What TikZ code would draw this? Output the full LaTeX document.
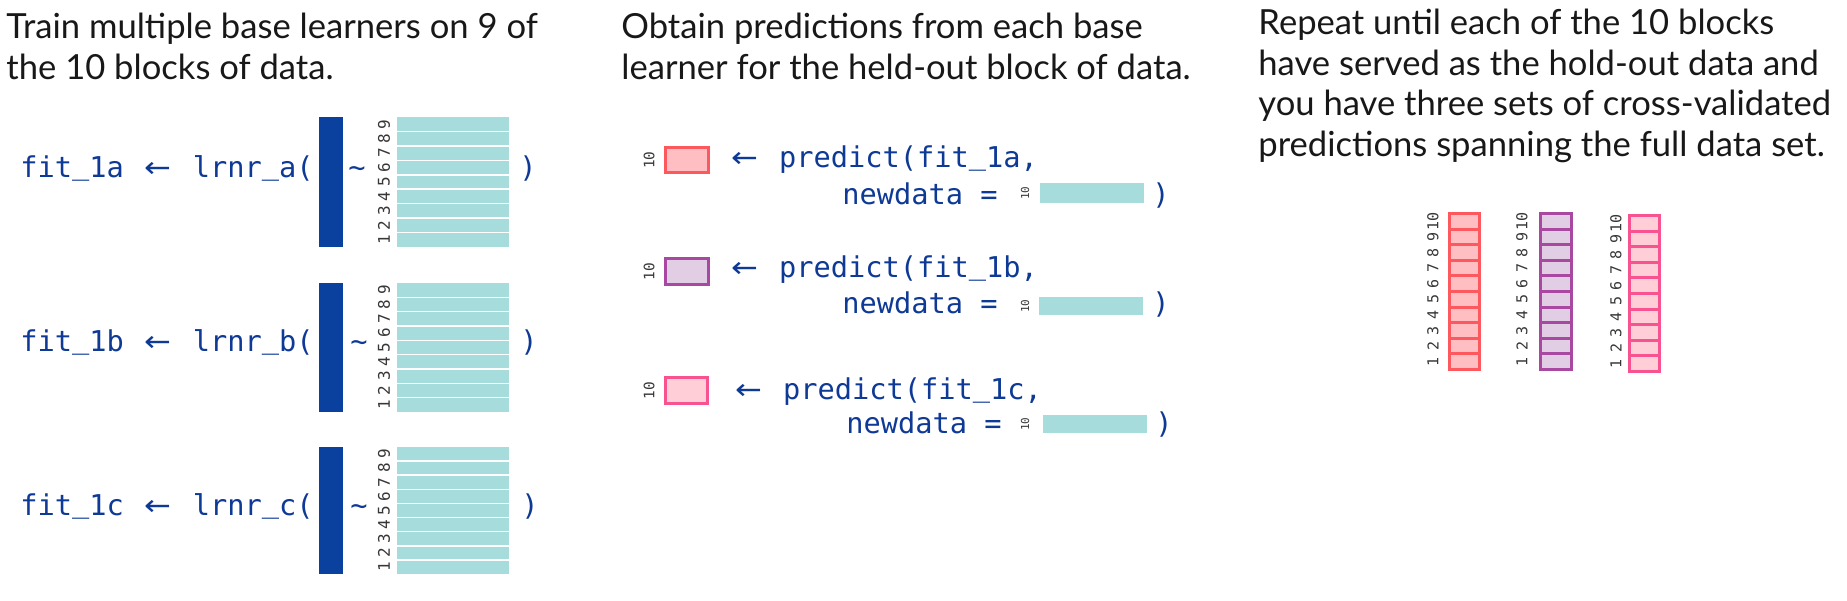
\documentclass[tikz,border=0pt]{standalone}
\usepackage{fontspec}
\setmainfont{Lato}
\newfontfamily\codefont{DejaVu Sans Mono}
\newfontfamily\arrfont{DejaVu Sans}
\definecolor{headc}{RGB}{24,24,24}
\definecolor{codec}{RGB}{14,58,150}
\definecolor{barc}{RGB}{10,64,158}
\definecolor{tealc}{RGB}{166,220,219}
\definecolor{labc}{RGB}{55,55,55}
\definecolor{redS}{RGB}{252,88,94}
\definecolor{redF}{RGB}{255,190,193}
\definecolor{purS}{RGB}{168,72,160}
\definecolor{purF}{RGB}{226,206,228}
\definecolor{pinS}{RGB}{248,82,145}
\definecolor{pinF}{RGB}{255,206,215}
\newcommand{\larr}{\makebox[1.204em]{\arrfont\scalebox{1.12}[1]{←}}}
\newcommand{\usc}{\raisebox{0.1em}{\_}}
\begin{document}
\begin{tikzpicture}[x=0.5pt,y=-0.5pt,
  heading/.style={anchor=north west,inner sep=0pt,align=left,text=headc,font=\fontsize{17.3}{20.2}\selectfont},
  code/.style={anchor=base west,inner sep=0pt,text=codec,font=\codefont\fontsize{14.33}{17}\selectfont},
  rowlab/.style={rotate=90,inner sep=0pt,text=labc,font=\codefont\fontsize{8}{8}\selectfont},
  stacklab/.style={rotate=90,inner sep=0pt,text=labc,font=\codefont\fontsize{7.5}{8}\selectfont},
  predlab/.style={rotate=90,inner sep=0pt,text=labc,font=\codefont\fontsize{7.2}{8}\selectfont},
  smalllab/.style={rotate=90,inner sep=0pt,text=labc,font=\codefont\fontsize{5.5}{6}\selectfont},
  predbox/.style={line width=1.5pt},
]
\useasboundingbox (0,0) rectangle (1847,600);

% headings
\node[heading] (h1) at (6,13) {Train multiple base learners on 9 of\\the 10 blocks of data.};
\node[heading] (h2) at (621,13) {Obtain predictions from each base\\learner for the held-out block of data.};
\node[heading] (h3) at (1258,9) {Repeat until each of the 10 blocks\\have served as the hold-out data and\\you have three sets of cross-validated\\predictions spanning the full data set.};

% left column: training
\foreach \nm/\tp/\bt/\bl/\tx/\px in {a/117/247/177/357/528, b/283/412/351/359/529, c/447/574/515/359/530}{
  \node[code] (fit\nm) at (20,\bl) {fit\usc1\nm\ \larr\ lrnr\usc\nm(};
  \fill[barc] (319,\tp) rectangle (343,\bt);
  \fill[tealc] (397,\tp) rectangle (509,\bt);
  \foreach \k in {1,...,8}{
    \draw[white,line width=0.8pt] (397,{\tp+\k*(\bt-\tp)/9}) -- (509,{\tp+\k*(\bt-\tp)/9});
  }
  \foreach \k in {1,...,9}{
    \node[rowlab] at (384,{\bt-(\k-0.5)*(\bt-\tp)/9}) {\k};
  }
  \node[code,anchor=base] (tl\nm) at (\tx,\bl) {\textasciitilde};
  \node[code,anchor=base] (cp\nm) at (\px,\bl) {)};
}

% middle column: predictions
\foreach \nm/\bS/\bF/\bx/\bt/\bb/\la/\ax/\lx/\lb/\tx/\tt/\tb/\sy/\px in {
  a/redS/redF/710/146/174/167/727/842/204/1040/183/203/193/1152,
  b/purS/purF/710/257/286/277/727/842/313/1039/297/315/306/1152,
  c/pinS/pinF/709/376/405/399/731/846/433/1043/415/433/424/1155}{
  \draw[predbox,draw=\bS,fill=\bF] (665.5,\bt+1.5) rectangle (\bx-1.5,\bb-1.5);
  \node[predlab] (pl\nm) at (649,{(\bt+\bb)/2}) {10};
  \node[code] (pr\nm) at (\ax,\la) {\larr\ predict(fit\usc1\nm,};
  \node[code] (nd\nm) at (\lx,\lb) {newdata =};
  \node[smalllab] (sl\nm) at (1025,\sy) {10};
  \fill[tealc] (\tx,\tt) rectangle (\tx+104,\tb);
  \node[code] (pp\nm) at (\px,\lb) {)};
}

% right column: stacked cross-validated predictions
\foreach \nm/\sS/\sF/\xa/\xb/\tp/\lx in {r/redS/redF/1448/1481/212/1433, p/purS/purF/1539/1573/212/1522, k/pinS/pinF/1628/1661/214/1616}{
  \foreach \k in {0,...,9}{
    \draw[predbox,draw=\sS,fill=\sF] (\xa+1.5,{\tp+1.5+\k*15.6}) rectangle (\xb-1.5,{\tp+1.5+(\k+1)*15.6});
  }
  \foreach \k in {1,...,10}{
    \node[stacklab] at (\lx,{\tp+1.5+10*15.6-(\k-0.5)*15.6}) {\k};
  }
}
\end{tikzpicture}
\end{document}
